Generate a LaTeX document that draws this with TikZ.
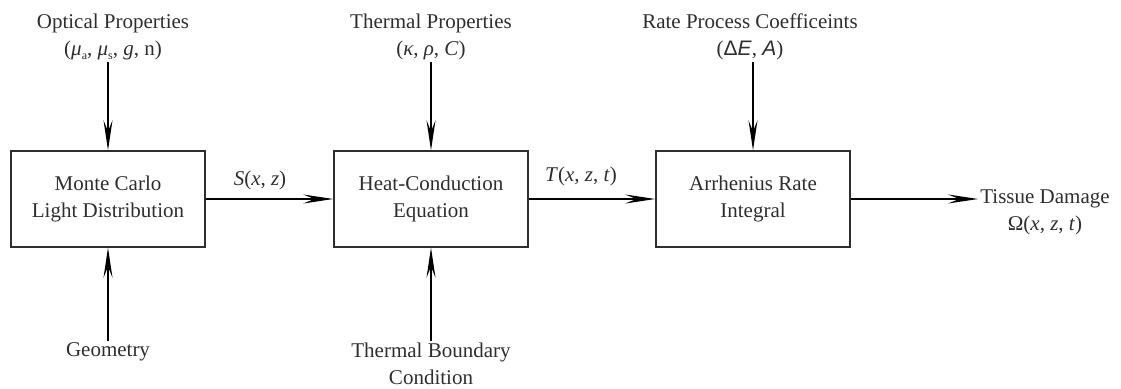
\documentclass[tikz,border=0pt]{standalone}
\usepackage{fontspec}
\setmainfont{Liberation Serif}
\newfontfamily\arialfont{Liberation Sans}
\usetikzlibrary{arrows.meta}
\definecolor{ink}{gray}{0.18}
\newcommand{\lowsub}[1]{\raisebox{-0.45ex}{\fontsize{12}{12}\selectfont #1}}
\begin{document}
\begin{tikzpicture}[x=1pt,y=-1pt,
  every node/.style={text=ink, font=\fontsize{21}{27}\selectfont, align=center, inner sep=2pt},
  blockbox/.style={draw=ink, line width=1.4pt, minimum width=194pt, minimum height=96pt, inner sep=0pt},
  flow/.style={draw=black, line width=1.4pt, -{Stealth[length=30pt,width=9pt,inset=11pt]}}
]
\useasboundingbox (0,0) rectangle (1121,388);

% blocks
\node[blockbox] (mc) at (108,199) {Monte Carlo\\Light Distribution};
\node[blockbox] (hc) at (431,199) {Heat-Conduction\\Equation};
\node[blockbox] (ar) at (753,199) {Arrhenius Rate\\Integral};

% top inputs
\node (op) at (113,37) {Optical Properties\\(\textit{μ}\lowsub{a}, \textit{μ}\lowsub{s}, \textit{g}, n)};
\node (tp) at (431,37) {Thermal Properties\\(\textit{κ}, \textit{ρ}, \textit{C})};
\node (rp) at (750,37) {Rate Process Coefficeints\\({\arialfont Δ\textit{E}}, {\arialfont\itshape A})};

% bottom inputs
\node (geo) at (108,352) {Geometry};
\node (tb) at (431,364) {Thermal Boundary\\Condition};

% output
\node (td) at (1045,212) {Tissue Damage\\Ω(\textit{x}, \textit{z}, \textit{t})};

% edge labels
\node (sl) at (260,180) {\textit{S}(\textit{x}, \textit{z})};
\node (tl) at (581,176) {\textit{T}(\textit{x}, \textit{z}, \textit{t})};

% connectors
\draw[flow] (mc.north |- op.south) -- (mc.north);
\draw[flow] (hc.north |- tp.south) -- (hc.north);
\draw[flow] (ar.north |- rp.south) -- (ar.north);
\draw[flow] (geo.north) -- (mc.south);
\draw[flow] (tb.north) -- (hc.south);
\draw[flow] (mc.east) -- (hc.west);
\draw[flow] (hc.east) -- (ar.west);
\draw[flow] (ar.east) -- (td.west |- ar.east);
\end{tikzpicture}
\end{document}
